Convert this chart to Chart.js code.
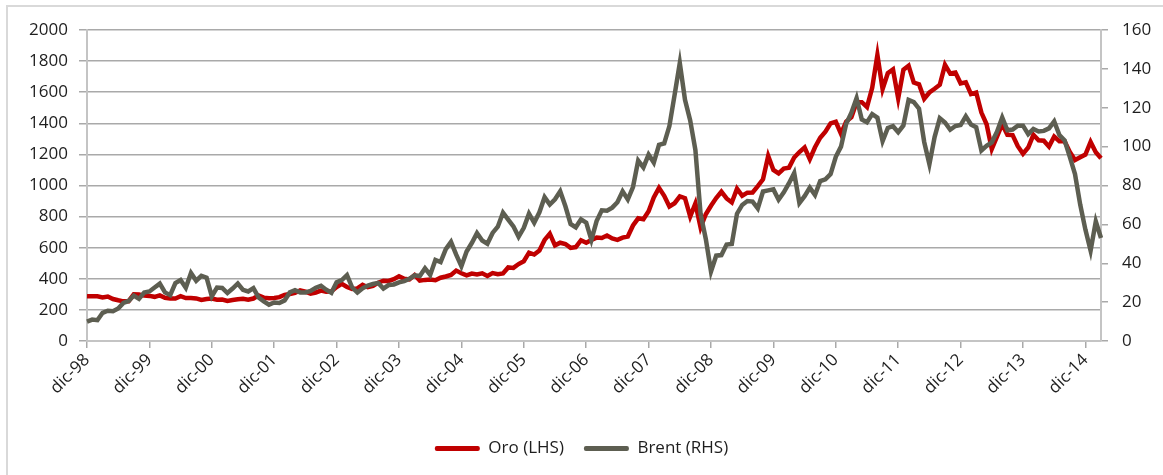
<!DOCTYPE html>
<html>
<head>
<meta charset="utf-8">
<script src="https://cdn.jsdelivr.net/npm/chart.js@4/dist/chart.umd.min.js"></script>
<style>
  html, body { margin: 0; padding: 0; background: #fff; }
  #frame { position: absolute; left: 6px; top: 5px; width: 1200px; height: 520px; border: 2px solid #d9d9d9; }
  #chart { position: absolute; left: 0; top: 0; }
</style>
</head>
<body>
<div id="frame"></div>
<canvas id="chart" width="1163" height="475"></canvas>
<script>
// month names (Spanish) used to build the monthly categories dic-98 .. mar-15
const monthNames = ['ene', 'feb', 'mar', 'abr', 'may', 'jun', 'jul', 'ago', 'sep', 'oct', 'nov', 'dic']
const firstYear = 1998   // first category is dic-98
const monthCount = 196   // dic-98 .. mar-15

// Oro (USD/oz), one value per month (LHS)
const goldValues = [
  288,
  287, 287, 280, 286, 270, 262, 255, 256, 300, 299, 292, 290,          // 1999
  284, 293, 278, 274, 273, 288, 276, 277, 274, 264, 270, 273,          // 2000
  265, 267, 258, 264, 268, 271, 266, 273, 293, 279, 275, 277,          // 2001
  282, 297, 302, 309, 326, 318, 305, 312, 324, 317, 319, 347,          // 2002
  367, 347, 334, 338, 361, 346, 354, 375, 388, 386, 398, 416,          // 2003
  400, 396, 424, 388, 393, 395, 391, 407, 415, 425, 453, 436,          // 2004
  422, 434, 428, 435, 418, 437, 429, 434, 473, 470, 495, 513,          // 2005
  568, 556, 582, 650, 690, 615, 632, 624, 599, 604, 648, 632,          // 2006
  650, 665, 662, 678, 659, 650, 665, 672, 743, 789, 783, 834,          // 2007
  923, 985, 934, 865, 886, 930, 918, 800, 884, 730, 815, 870,          // 2008
  919, 960, 917, 891, 980, 934, 954, 955, 996, 1040, 1190, 1100,       // 2009
  1078, 1109, 1115, 1180, 1215, 1244, 1169, 1246, 1307, 1346, 1400, 1410, // 2010
  1333, 1411, 1439, 1535, 1536, 1505, 1628, 1840, 1620, 1722, 1746, 1560, // 2011
  1744, 1770, 1662, 1651, 1558, 1598, 1622, 1648, 1776, 1720, 1726, 1657, // 2012
  1664, 1588, 1598, 1469, 1394, 1235, 1314, 1394, 1326, 1324, 1253, 1204, // 2013
  1244, 1326, 1291, 1288, 1250, 1315, 1285, 1285, 1216, 1164, 1182, 1199, // 2014
  1280, 1214, 1175                                                     // 2015
]

// Brent (USD/bbl), one value per month (RHS)
const brentValues = [
  10.0,
  11.0, 10.7, 14.5, 15.6, 15.3, 16.7, 19.6, 20.6, 23.4, 21.7, 24.9, 25.5,   // 1999
  27.5, 29.5, 25.0, 23.6, 29.8, 31.4, 27.4, 35.0, 31.0, 33.5, 32.6, 23.0,   // 2000
  27.5, 27.3, 24.7, 27.0, 29.6, 26.3, 25.5, 27.2, 22.4, 20.4, 18.7, 19.8,   // 2001
  19.6, 20.9, 25.0, 26.1, 25.0, 25.0, 25.8, 27.4, 28.4, 26.4, 24.8, 30.2,   // 2002
  31.3, 33.9, 27.5, 24.9, 27.1, 28.5, 29.3, 29.9, 27.0, 28.8, 29.1, 30.2,   // 2003
  30.8, 32.0, 33.8, 33.4, 37.4, 34.0, 41.7, 40.6, 47.3, 51.0, 44.4, 38.5,   // 2004
  46.0, 50.4, 55.5, 51.7, 50.0, 55.6, 58.8, 66.0, 62.5, 59.0, 53.6, 58.2,   // 2005
  65.5, 60.8, 66.2, 74.0, 70.2, 72.9, 77.0, 69.3, 60.2, 58.5, 62.6, 60.9,   // 2006
  52.0, 61.7, 67.2, 67.0, 68.6, 71.4, 77.0, 72.8, 79.2, 92.8, 89.3, 95.9,   // 2007
  91.8, 100.9, 101.6, 110.6, 126.6, 143.0, 124.1, 113.5, 98.2, 65.3, 52.5, 35.8, // 2008
  43.9, 44.2, 49.6, 49.9, 65.5, 70.0, 72.0, 71.7, 68.2, 76.9, 77.5, 78.0,   // 2009
  72.7, 76.5, 81.2, 86.4, 71.0, 74.5, 78.9, 75.1, 82.3, 83.2, 85.9, 94.8,   // 2010
  100.0, 111.8, 117.4, 125.0, 114.0, 112.5, 116.7, 114.9, 102.8, 109.6, 110.5, 107.4, // 2011
  110.9, 124.0, 122.9, 119.5, 102.4, 91.0, 104.9, 114.6, 112.4, 108.7, 110.6, 111.1,  // 2012
  115.6, 111.4, 110.0, 98.0, 100.4, 102.2, 107.7, 115.0, 108.4, 108.8, 110.8, 110.8,  // 2013
  106.4, 109.1, 107.8, 108.1, 109.4, 113.0, 106.0, 103.2, 94.7, 85.9, 70.2, 57.3,     // 2014
  46.5, 61.5, 53.0                                                                    // 2015
]

const goldColor = '#c00000'
const brentColor = '#5d5e51'
const tickFont = { family: "'Open Sans', sans-serif", size: 17 }
const textColor = '#1e1e1e'
const gridColor = '#a9a9a9'
const axisColor = '#c4c4c4'

const monthLabels = []
for (let i = 0; i < monthCount; i++) {
  const m = (11 + i) % 12
  const y = firstYear + Math.floor((11 + i) / 12)
  monthLabels.push(monthNames[m] + '-' + String(y % 100).padStart(2, '0'))
}

const ctx = document.getElementById('chart').getContext('2d')
const chart = new Chart(ctx, {
  type: 'line',
  data: {
    labels: monthLabels,
    datasets: [{
      label: 'Oro (LHS)',
      data: goldValues,
      yAxisID: 'y',
      borderColor: goldColor,
      backgroundColor: goldColor,
      borderWidth: 4.5,
      pointRadius: 0,
      tension: 0,
      order: 1
    }, {
      label: 'Brent (RHS)',
      data: brentValues,
      yAxisID: 'y1',
      borderColor: brentColor,
      backgroundColor: brentColor,
      borderWidth: 4.5,
      pointRadius: 0,
      tension: 0,
      order: 0
    }]
  },
  options: {
    responsive: false,
    animation: false,
    layout: { padding: { left: 10, right: 10, top: 30, bottom: 8 } },
    plugins: {
      tooltip: { enabled: false },
      legend: {
        position: 'bottom',
        labels: {
          font: tickFont,
          color: textColor,
          boxWidth: 45,
          boxHeight: 5,
          padding: 20,
          generateLabels: () => [
            { text: 'Oro (LHS)', fillStyle: goldColor, lineWidth: 0, borderRadius: 2, datasetIndex: 0, fontColor: textColor },
            { text: 'Brent (RHS)', fillStyle: brentColor, lineWidth: 0, borderRadius: 2, datasetIndex: 1, fontColor: textColor }
          ]
        }
      }
    },
    scales: {
      x: {
        type: 'category',
        grid: { drawOnChartArea: false, color: gridColor, lineWidth: 1.5, tickLength: 7 },
        border: { color: axisColor, width: 2 },
        ticks: {
          autoSkip: false,
          maxRotation: 45,
          minRotation: 45,
          padding: 2,
          font: tickFont,
          color: textColor,
          callback: function (value) {
            const label = this.getLabelForValue(value)
            return label.startsWith('dic') ? label : null
          }
        },
        afterFit: (scale) => { scale.height = 79 }
      },
      y: {
        position: 'left',
        min: 0,
        max: 2000,
        grid: { color: gridColor, lineWidth: 1.5, tickLength: 8 },
        border: { color: axisColor, width: 2 },
        ticks: { stepSize: 200, padding: 11, font: tickFont, color: textColor, callback: (v) => String(v) },
        afterFit: (scale) => { scale.width = 77 }
      },
      y1: {
        position: 'right',
        min: 0,
        max: 160,
        grid: { drawOnChartArea: false, color: gridColor, lineWidth: 1.5, tickLength: 7 },
        border: { color: axisColor, width: 2 },
        ticks: { stepSize: 20, padding: 14, font: tickFont, color: textColor, callback: (v) => String(v) },
        afterFit: (scale) => { scale.width = 52 }
      }
    }
  }
})
</script>
</body>
</html>
